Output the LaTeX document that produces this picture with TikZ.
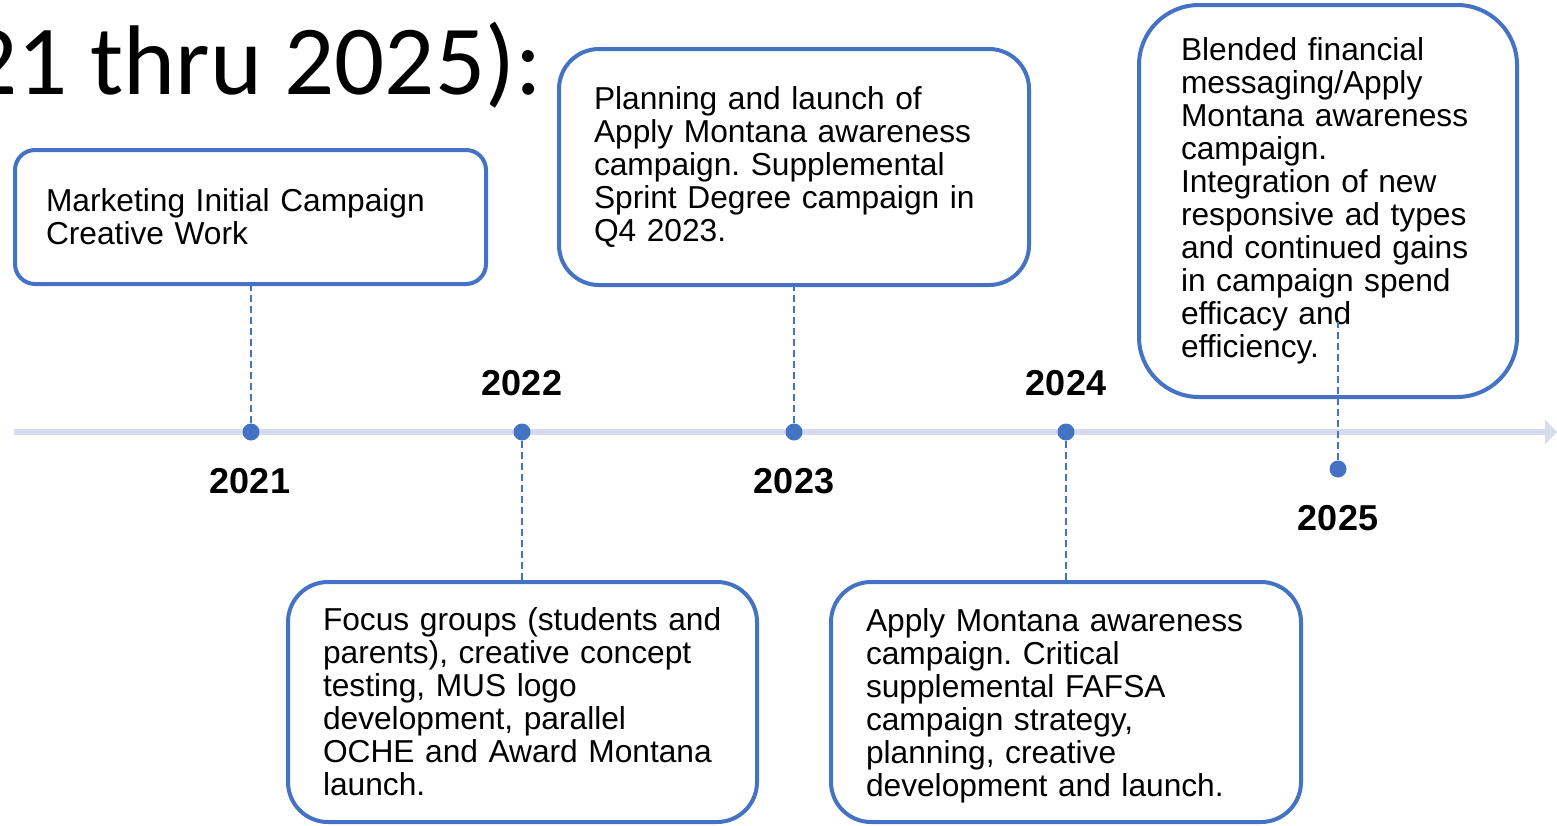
\documentclass[tikz,border=0pt]{standalone}
\usepackage{fontspec}
\setmainfont{Liberation Sans}
\newfontfamily\titlefont{Carlito}
\usetikzlibrary{arrows.meta,positioning}
\definecolor{accent}{RGB}{68,114,196}
\definecolor{axis}{RGB}{214,219,238}
\frenchspacing

\begin{document}
\begin{tikzpicture}[x=1pt,y=-1pt,
	box/.style = {draw=accent, line width=4pt, fill=white, align=left, inner ysep=0pt,
		font=\fontsize{31.7}{33}\selectfont},
	dot/.style = {circle, fill=accent, inner sep=0pt, minimum size=17pt},
	year/.style = {font=\fontsize{36}{36}\selectfont\bfseries},
	link/.style = {accent, line width=1.8pt, dash pattern=on 7pt off 4pt}]
	\useasboundingbox (0,0) rectangle (1557,825);
	\node[anchor=base east, inner sep=0pt, font=\titlefont\fontsize{99}{99}\selectfont] (t) at (542,94) {21 thru 2025):};
	% timeline
	\draw[axis, line width=6pt, -{Triangle[length=12pt,width=24pt]}] (14,432) -- (1557,432);
	\node[dot] (d1) at (251,432) {};
	\node[dot] (d2) at (522,432) {};
	\node[dot] (d3) at (794,432) {};
	\node[dot] (d4) at (1066,432) {};
	\node[dot] (d5) at (1338,469) {};
	\node[year] (y1) at (250,481) {2021};
	\node[year] (y2) at (522,383) {2022};
	\node[year] (y3) at (794,481) {2023};
	\node[year] (y4) at (1066,383) {2024};
	\node[year] (y5) at (1338,518) {2025};
	% boxes
	\node[box, rounded corners=20pt, text width=409pt, inner xsep=31pt, minimum height=134pt] (b1) at (250.5,217)
		{Marketing Initial Campaign\\Creative Work};
	\node[box, rounded corners=40pt, text width=400pt, inner xsep=35pt, minimum height=236pt] (b2) at (794,167)
		{Planning and launch of\\Apply Montana awareness\\campaign. Supplemental\\Sprint Degree campaign in\\Q4 2023.};
	\node[box, rounded corners=60pt, text width=294pt, inner xsep=42pt, minimum height=392pt] (b3) at (1328,201)
		{Blended financial\\messaging/Apply\\Montana awareness\\campaign.\\Integration of new\\responsive ad types\\and continued gains\\in campaign spend\\efficacy and\\efficiency.};
	\node[box, rounded corners=40pt, text width=399pt, inner xsep=35pt, minimum height=240pt] (b4) at (522.5,702)
		{Focus groups (students~and\\parents), creative concept\\testing, MUS logo\\development, parallel\\OCHE and Award Montana\\launch.};
	\node[box, rounded corners=40pt, text width=400pt, inner xsep=35pt, minimum height=240pt] (b5) at (1066,702)
		{\rule{0pt}{31pt}Apply Montana awareness\\campaign. Critical\\supplemental FAFSA\\campaign strategy,\\planning, creative\\development and launch.};
	% connectors
	\coordinate (c5) at (1338,322);
	\draw[link] (d1) -- (d1 |- b1.south);
	\draw[link] (d2) -- (d2 |- b4.north);
	\draw[link] (d3) -- (d3 |- b2.south);
	\draw[link] (d4) -- (d4 |- b5.north);
	\draw[link] (d5) -- (c5);
\end{tikzpicture}
\end{document}
